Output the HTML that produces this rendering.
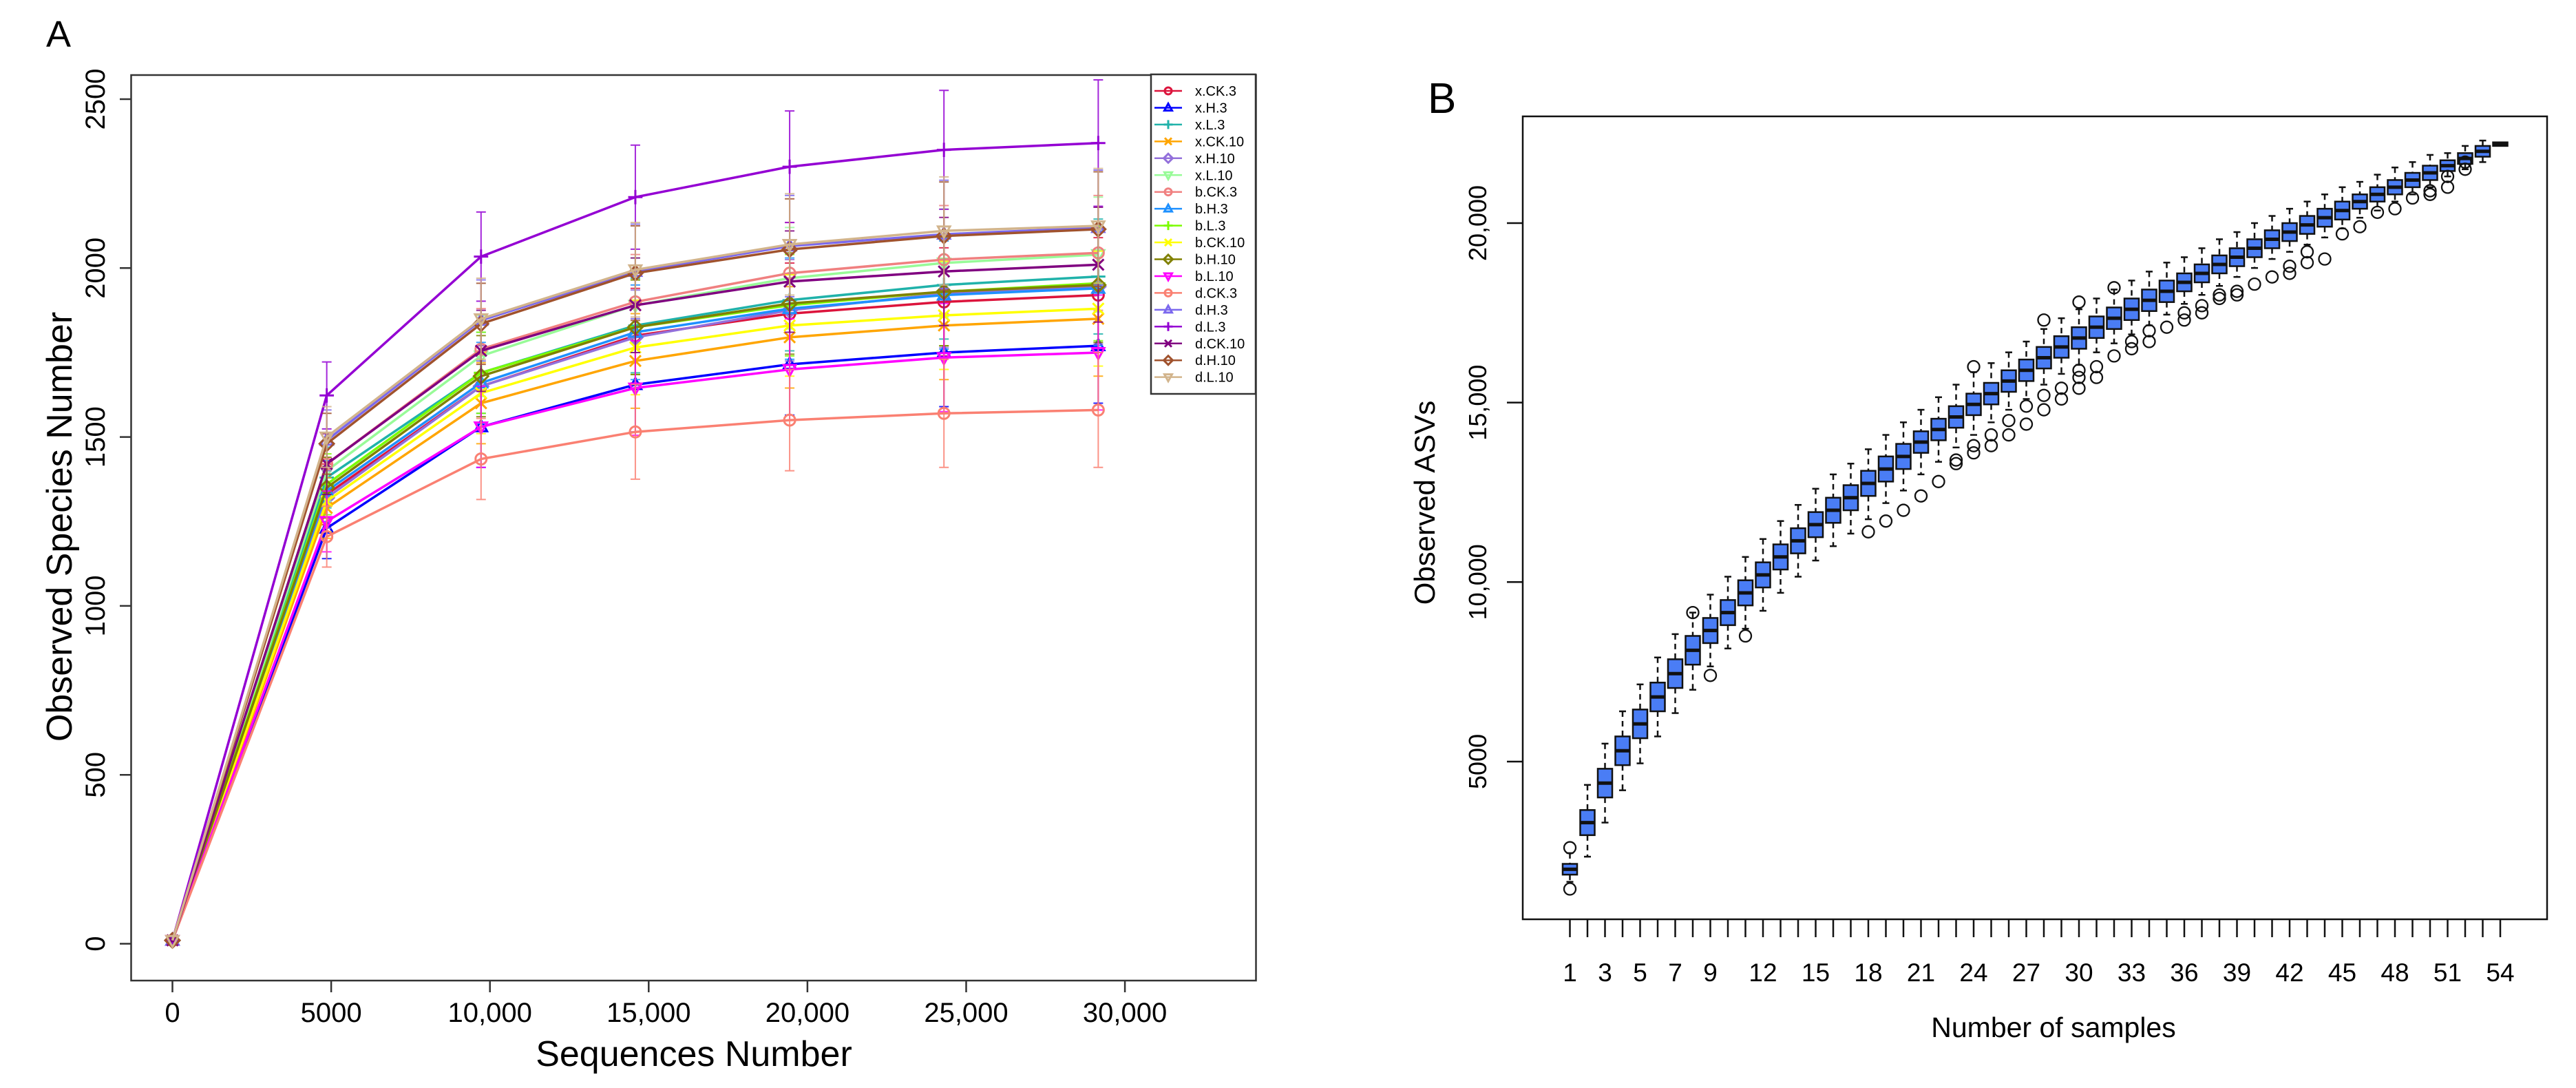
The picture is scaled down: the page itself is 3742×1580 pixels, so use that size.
<!DOCTYPE html>
<html><head><meta charset="utf-8">
<style>
html,body{margin:0;padding:0;background:#fff;}
svg{display:block;font-family:"Liberation Sans",Arial,sans-serif;}
</style></head>
<body>
<svg id="chart" width="3742" height="1580" viewBox="0 0 3742 1580" xmlns="http://www.w3.org/2000/svg">
<rect x="0" y="0" width="3742" height="1580" fill="#fff"/>
<g id="panelA"></g>
<g id="panelB"></g>
</svg>
<script>
// ===== Panel A data =====
const seqDepths = [0, 4860, 9720, 14580, 19440, 24300, 29160];
const seriesNames = ["x.CK.3","x.H.3","x.L.3","x.CK.10","x.H.10","x.L.10","b.CK.3","b.H.3","b.L.3","b.CK.10","b.H.10","b.L.10","d.CK.3","d.H.3","d.L.3","d.CK.10","d.H.10","d.L.10"];
const seriesColors = ["#dc143c","#0000ff","#20b2aa","#ffa500","#9370db","#98fb98","#f08080","#1e90ff","#7cfc00","#ffff00","#808000","#ff00ff","#fa8072","#7b68ee","#9400d3","#800080","#a0522d","#d2b48c"];
const seriesShapes = ["circle","tri","plus","x","diamond","dtri","circle","tri","plus","x","diamond","dtri","circle","tri","plus","x","diamond","dtri"];
const vXCK3  = [10,1330,1650,1800,1865,1900,1920];
const vXH3   = [10,1230,1530,1655,1715,1750,1770];
const vXL3   = [10,1380,1690,1830,1905,1950,1975];
const vXCK10 = [10,1290,1600,1725,1795,1830,1850];
const vXH10  = [10,1320,1650,1795,1875,1925,1945];
const vXL10  = [10,1400,1740,1890,1970,2015,2040];
const vBCK3  = [10,1420,1760,1900,1985,2025,2045];
const vBH3   = [10,1340,1660,1810,1880,1920,1940];
const vBL3   = [10,1360,1690,1825,1890,1930,1955];
const vBCK10 = [10,1310,1630,1765,1830,1860,1880];
const vBH10  = [10,1350,1680,1825,1895,1930,1950];
const vBL10  = [10,1250,1530,1645,1700,1735,1750];
const vDCK3  = [10,1205,1435,1515,1550,1570,1580];
const vDH3   = [10,1490,1845,1990,2065,2100,2120];
const vDL3   = [10,1623,2034,2210,2300,2350,2370];
const vDCK10 = [10,1420,1755,1890,1960,1990,2010];
const vDH10  = [10,1480,1835,1985,2055,2095,2115];
const vDL10  = [10,1500,1850,1995,2070,2110,2125];
const seriesValues = [vXCK3,vXH3,vXL3,vXCK10,vXH10,vXL10,vBCK3,vBH3,vBL3,vBCK10,vBH10,vBL10,vDCK3,vDH3,vDL3,vDCK10,vDH10,vDL10];
const errAtDepth = [0, 90, 120, 140, 150, 160, 170];
const xTicksA = [0,5000,10000,15000,20000,25000,30000];
const xTickLabelsA = ["0","5000","10,000","15,000","20,000","25,000","30,000"];
const yTicksA = [0,500,1000,1500,2000,2500];

// ===== Panel B data =====
const sampleLabels = ["1","3","5","7","9","12","15","18","21","24","27","30","33","36","39","42","45","48","51","54"];
const sampleLabelPos = [1,3,5,7,9,12,15,18,21,24,27,30,33,36,39,42,45,48,51,54];
const boxMedian = [2000,3300,4400,5300,6050,6800,7450,8100,8650,9150,9700,10200,10700,11150,11600,12000,12350,12750,13150,13500,13900,14250,14600,14950,15250,15600,15900,16250,16550,16800,17100,17350,17600,17850,18100,18350,18600,18850,19050,19300,19550,19750,19950,20150,20350,20600,20800,21000,21200,21400,21600,21800,22000,22200];
const boxHalf = [150,350,400,400,400,400,400,400,350,350,350,350,350,350,350,350,350,350,350,350,300,300,300,300,300,300,300,300,300,300,300,300,300,300,300,250,250,250,250,250,250,250,250,250,250,200,200,200,200,200,150,150,150,50];
const whiskUp = [300,700,700,700,700,700,700,650,650,650,650,650,650,650,650,650,600,600,600,600,600,600,600,600,550,500,500,500,500,500,500,500,500,500,500,450,450,450,450,450,400,400,400,400,400,350,350,350,300,300,200,200,150,0];
const whiskDown = [200,600,700,700,700,700,700,700,650,650,650,650,650,650,650,650,650,650,600,600,600,600,550,550,500,500,500,450,450,450,400,400,400,400,350,350,350,350,300,300,300,300,300,300,250,250,250,200,200,200,150,150,150,0];
const outlierSample = [1,1,8,9,11,18,19,20,21,22,23,23,24,24,24,25,25,26,26,27,27,28,28,28,29,29,30,30,30,30,31,31,32,32,33,33,34,34,35,36,36,37,37,38,38,39,39,40,41,42,42,43,43,44,45,46,47,48,49,50,50,51,51,52,52];
const outlierValue = [2600,1450,9150,7400,8500,11400,11700,12000,12400,12800,13300,13400,16000,13600,13800,13800,14100,14100,14500,14400,14900,17300,14800,15200,15100,15400,17800,15400,15700,15900,15700,16000,16300,18200,16500,16700,16700,17000,17100,17300,17500,17500,17700,17900,18000,18000,18100,18300,18500,18600,18800,18900,19200,19000,19700,19900,20300,20400,20700,20800,20900,21000,21300,21500,21700];
const yTicksB = [5000,10000,15000,20000];
const yTickLabelsB = ["5000","10,000","15,000","20,000"];

const NS = "http://www.w3.org/2000/svg";
function mk(parent, tag, attrs, text){
  const e = document.createElementNS(NS, tag);
  for (const k in attrs) e.setAttribute(k, attrs[k]);
  if (text !== undefined) e.textContent = text;
  parent.appendChild(e);
  return e;
}

// ===== Panel A =====
(function(){
  const g = document.getElementById('panelA');
  const xA = v => 250.5 + v * 0.04612;
  const yA = v => 1370.5 - v * 0.4906;
  let t = mk(g,'text',{x:67,y:68,'font-size':54});
  t.textContent = 'A';
  
  

  let frame = mk(g,'rect',{x:190.5,y:109,width:1634,height:1315,fill:'none',stroke:'#333','stroke-width':2.5});
  
  

  xTicksA.forEach((v,i)=>{
    const l = mk(g,'line',{x1:xA(v),x2:xA(v),y1:1424,y2:1441,stroke:'#333','stroke-width':2.5});
    
    
    const tx = mk(g,'text',{x:xA(v),y:1484,'font-size':40,'text-anchor':'middle'},xTickLabelsA[i]);
    
    
  });
  yTicksA.forEach(v=>{
    const l = mk(g,'line',{x1:174,x2:190.5,y1:yA(v),y2:yA(v),stroke:'#333','stroke-width':2.5});
    
    
    const tx = mk(g,'text',{x:0,y:0,'font-size':40,'text-anchor':'middle',transform:`translate(152,${yA(v)}) rotate(-90)`},String(v));
    
    
  });
  const xt = mk(g,'text',{x:1008,y:1548,'font-size':52,'text-anchor':'middle'},'Sequences Number');
  
  
  const yt = mk(g,'text',{x:0,y:0,'font-size':52,'text-anchor':'middle',transform:'translate(104,765) rotate(-90)'},'Observed Species Number');
  
  

  function marker(parent, shape, cx, cy, color, r){
    let m;
    if (shape==='circle') m = mk(parent,'circle',{cx:cx,cy:cy,r:r,fill:'none',stroke:color,'stroke-width':3});
    else if (shape==='tri') m = mk(parent,'polygon',{points:`${cx},${cy-r*1.2} ${cx-r*1.1},${cy+r*0.8} ${cx+r*1.1},${cy+r*0.8}`,fill:'none',stroke:color,'stroke-width':3});
    else if (shape==='dtri') m = mk(parent,'polygon',{points:`${cx},${cy+r*1.2} ${cx-r*1.1},${cy-r*0.8} ${cx+r*1.1},${cy-r*0.8}`,fill:'none',stroke:color,'stroke-width':3});
    else if (shape==='diamond') m = mk(parent,'polygon',{points:`${cx},${cy-r*1.3} ${cx+r*1.3},${cy} ${cx},${cy+r*1.3} ${cx-r*1.3},${cy}`,fill:'none',stroke:color,'stroke-width':3});
    else if (shape==='plus') m = mk(parent,'path',{d:`M${cx-r*1.3},${cy}H${cx+r*1.3}M${cx},${cy-r*1.3}V${cy+r*1.3}`,fill:'none',stroke:color,'stroke-width':3});
    else m = mk(parent,'path',{d:`M${cx-r},${cy-r}L${cx+r},${cy+r}M${cx-r},${cy+r}L${cx+r},${cy-r}`,fill:'none',stroke:color,'stroke-width':3});
    return m;
  }

  seriesValues.forEach((vals,si)=>{
    const sg = mk(g,'g',{});
    
    
    const col = seriesColors[si];
    vals.forEach((v,pi)=>{
      const e = errAtDepth[pi] * (si===14 ? 1.1 : 1);
      if (e>0){
        const x = xA(seqDepths[pi]);
        const eb = mk(sg,'path',{d:`M${x},${yA(v-e)}V${yA(v+e)}M${x-7},${yA(v-e)}H${x+7}M${x-7},${yA(v+e)}H${x+7}`,stroke:col,'stroke-width':2,fill:'none',opacity:0.85});
        
        
      }
    });
    const pts = vals.map((v,pi)=>`${xA(seqDepths[pi]).toFixed(1)},${yA(v).toFixed(1)}`).join(' ');
    const pl = mk(sg,'polyline',{points:pts,fill:'none',stroke:col,'stroke-width':3.5});
    
    
    vals.forEach((v,pi)=>{
      const m = marker(sg, seriesShapes[si], xA(seqDepths[pi]), yA(v), col, 8);
      
      
    });
  });

  // legend
  const lg = mk(g,'g',{});
  
  
  const lb = mk(lg,'rect',{x:1672,y:108,width:152,height:464,fill:'#fff',stroke:'#333','stroke-width':2.5});
  
  
  seriesNames.forEach((n,i)=>{
    const y = 132 + i*24.45;
    const eg = mk(lg,'g',{});
    
    
    mk(eg,'line',{x1:1677,x2:1717,y1:y,y2:y,stroke:seriesColors[i],'stroke-width':2.5});
    marker(eg, seriesShapes[i], 1697, y, seriesColors[i], 5);
    mk(eg,'text',{x:1736,y:y+7,'font-size':20},n);
  });
})();

// ===== Panel B =====
(function(){
  const g = document.getElementById('panelB');
  const xB = i => 2280.5 + (i-1)*25.5;
  const yB = v => 324 + (20000 - v)*0.05213;
  const t = mk(g,'text',{x:2074,y:164,'font-size':62},'B');
  
  
  const frame = mk(g,'rect',{x:2212,y:169,width:1488,height:1166,fill:'none',stroke:'#111','stroke-width':2.5});
  
  

  boxMedian.forEach((m,k)=>{
    const i = k+1, x = xB(i);
    const q1 = m - boxHalf[k], q3 = m + boxHalf[k];
    const tick = mk(g,'line',{x1:x,x2:x,y1:1335,y2:1361,stroke:'#111','stroke-width':2.5});
    
    
    const bg = mk(g,'g',{});
    
    
    const hiV = q3 + whiskUp[k], loV = q1 - whiskDown[k];
    if (whiskUp[k]>0){
      mk(bg,'line',{x1:x,x2:x,y1:yB(hiV),y2:yB(q3),stroke:'#111','stroke-width':2.5,'stroke-dasharray':'8,6'});
      mk(bg,'line',{x1:x-5,x2:x+5,y1:yB(hiV),y2:yB(hiV),stroke:'#111','stroke-width':2.5});
    }
    if (whiskDown[k]>0){
      mk(bg,'line',{x1:x,x2:x,y1:yB(q1),y2:yB(loV),stroke:'#111','stroke-width':2.5,'stroke-dasharray':'8,6'});
      mk(bg,'line',{x1:x-5,x2:x+5,y1:yB(loV),y2:yB(loV),stroke:'#111','stroke-width':2.5});
    }
    mk(bg,'rect',{x:x-10.5,y:yB(q3),width:21,height:Math.max(yB(q1)-yB(q3),3),fill:'#4a7df5',stroke:'#111','stroke-width':2.5});
    mk(bg,'line',{x1:x-10.5,x2:x+10.5,y1:yB(m),y2:yB(m),stroke:'#111','stroke-width':5});
  });
  outlierSample.forEach((s,j)=>{
    const c = mk(g,'circle',{cx:xB(s),cy:yB(outlierValue[j]),r:8.5,fill:'none',stroke:'#111','stroke-width':2.3});
    
    
  });
  sampleLabels.forEach((lab,j)=>{
    const tx = mk(g,'text',{x:xB(sampleLabelPos[j]),y:1425,'font-size':37,'text-anchor':'middle'},lab);
    
    
  });
  yTicksB.forEach((v,j)=>{
    const l = mk(g,'line',{x1:2189,x2:2212,y1:yB(v),y2:yB(v),stroke:'#111','stroke-width':2.5});
    
    
    const tx = mk(g,'text',{x:0,y:0,'font-size':36,'text-anchor':'middle',transform:`translate(2159,${yB(v)}) rotate(-90)`},yTickLabelsB[j]);
    
    
  });
  const xt = mk(g,'text',{x:2983,y:1506,'font-size':41,'text-anchor':'middle'},'Number of samples');
  
  
  const yt = mk(g,'text',{x:0,y:0,'font-size':42,'text-anchor':'middle',transform:'translate(2084,730) rotate(-90)'},'Observed ASVs');
  
  
})();
</script>
</body></html>
